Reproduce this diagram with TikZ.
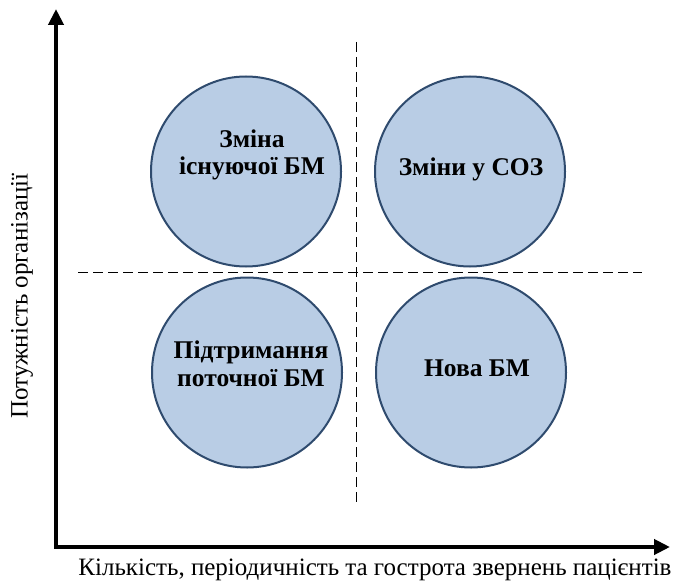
\documentclass[tikz,border=0pt]{standalone}
\usepackage{fontspec}
\setmainfont{Liberation Serif}
\usepackage{tikz}
\usetikzlibrary{arrows.meta}

\definecolor{bmfill}{HTML}{B9CDE5}
\definecolor{bmline}{HTML}{2F4B6E}

\begin{document}
\begin{tikzpicture}[x=1pt, y=1pt,
  axis/.style={line width=4pt, -{Triangle[length=16pt,width=15pt]}},
  split/.style={line width=1pt, dash pattern=on 10pt off 5pt},
  bm/.style={circle, draw=bmline, line width=2pt, fill=bmfill, minimum size=190pt, inner sep=0pt},
  bmtext/.style={align=center, font=\fontsize{25.5}{27.5}\selectfont\bfseries},
  axtext/.style={font=\fontsize{25}{29}\selectfont}]
  \useasboundingbox (0,0) rectangle (676,582);
  \coordinate (o) at (56,35);
  \coordinate (ytip) at (56,573);
  \coordinate (xtip) at (670,35);
  \coordinate (hl) at (78,310);
  \coordinate (hr) at (642,310);
  \coordinate (vt) at (356,540);
  \coordinate (vb) at (356,79);

  \node[bm] (tl) at (246,410.5) {};
  \node[bm] (tr) at (470,410.5) {};
  \node[bm] (bl) at (247,209.5) {};
  \node[bm] (br) at (471,209.5) {};

  \node[bmtext] (tltext) at (252,427) {Зміна\\існуючої БМ};
  \node[bmtext] (trtext) at (471,413) {Зміни у СОЗ};
  \node[bmtext] (bltext) at (251,218) {Підтримання\\поточної БМ};
  \node[bmtext] (brtext) at (477,214) {Нова БМ};

  \draw[split] (hl) -- (hr);
  \draw[split] (vt) -- (vb);
  \draw[axis] (o) -- (ytip);
  \draw[axis] ([xshift=-2pt]o) -- (xtip);

  \node[axtext, rotate=90] (ylab) at (22,286) {Потужність організації};
  \node[axtext] (xlab) at (375,12) {Кількість, періодичність та гострота звернень пацієнтів};
\end{tikzpicture}
\end{document}
